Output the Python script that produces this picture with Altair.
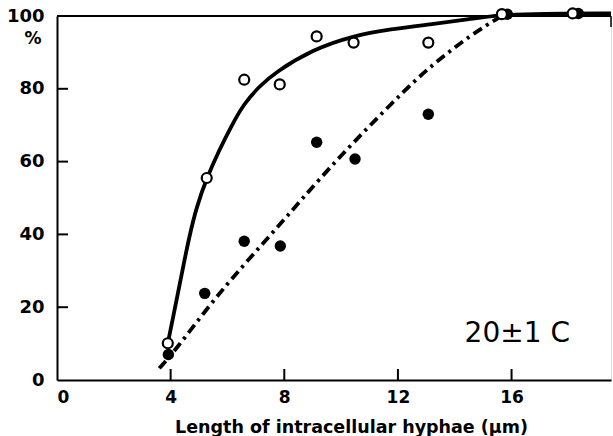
import altair as alt
import pandas as pd

# Open circles (solid curve)
open_x = [3.9, 5.27, 6.59, 7.84, 9.14, 10.44, 13.07, 15.66, 18.15]
open_y = [10.1, 55.5, 82.5, 81.2, 94.4, 92.7, 92.7, 100.5, 100.7]

# Filled circles (dash-dot curve)
filled_x = [3.92, 5.2, 6.59, 7.86, 9.14, 10.49, 13.07, 15.85, 18.35]
filled_y = [7.0, 23.8, 38.1, 36.8, 65.3, 60.7, 73.0, 100.5, 100.7]

# Fitted curves
solid_x = [3.9, 4.08, 4.26, 4.45, 4.66, 4.91, 5.27, 5.7, 6.15, 6.59, 7.1, 7.67, 9.03,
           10.39, 11.76, 13.12, 14.48, 15.6, 17.0, 19.5]
solid_y = [10.1, 17.0, 24.0, 31.5, 39.5, 47.5, 55.5, 63.0, 70.0, 76.0, 80.5, 84.5, 90.9,
           94.5, 96.4, 97.7, 99.1, 100.3, 100.6, 100.7]

dash_x = [3.6, 4.2, 5.39, 6.5, 7.54, 8.6, 9.9, 11.9, 13.1, 14.6, 15.65]
dash_y = [3.2, 8.5, 20.8, 31.0, 40.0, 49.5, 61.0, 77.0, 86.0, 95.0, 100.0]

x_ticks = [4, 8, 12, 16]
x_labels = [0, 4, 8, 12, 16]
y_ticks = [20, 40, 60, 80]
y_labels = [0, 20, 40, 60, 80, 100]

X_MAX = 19.5
FONT = "DejaVu Sans"

xs = alt.Scale(domain=[0, X_MAX], nice=False, zero=False)
ys = alt.Scale(domain=[0, 100], nice=False, zero=False)

open_df = pd.DataFrame({"x": open_x, "y": open_y})
filled_df = pd.DataFrame({"x": filled_x, "y": filled_y})
solid_df = pd.DataFrame({"x": solid_x, "y": solid_y})
dash_df = pd.DataFrame({"x": dash_x, "y": dash_y})

xaxis = alt.Axis(values=x_labels, ticks=False, grid=False, domainColor="black",
                 domainWidth=2, labelFont=FONT, labelFontWeight="bold",
                 labelFontSize=17, labelColor="black", labelPadding=9,
                 title="Length of intracellular hyphae (μm)", titleFont=FONT,
                 titleFontSize=17.5, titleFontWeight="bold", titleColor="black",
                 titleX=294, titleY=52, titleBaseline="alphabetic")
yaxis = alt.Axis(values=y_labels, ticks=False, grid=False, domainColor="black",
                 domainWidth=2, labelFont=FONT, labelFontWeight="bold",
                 labelFontSize=18, labelColor="black", labelPadding=13, title=None)

solid = alt.Chart(solid_df).mark_line(color="black", strokeWidth=3.8,
                                      interpolate="basis").encode(
    x=alt.X("x:Q", scale=xs, axis=xaxis),
    y=alt.Y("y:Q", scale=ys, axis=yaxis),
)
dash = alt.Chart(dash_df).mark_line(color="black", strokeWidth=3.8,
                                    strokeDash=[10, 5, 3, 5],
                                    interpolate="basis").encode(
    x=alt.X("x:Q", scale=xs), y=alt.Y("y:Q", scale=ys))

filled = alt.Chart(filled_df).mark_circle(color="black", size=130, opacity=1).encode(
    x=alt.X("x:Q", scale=xs), y=alt.Y("y:Q", scale=ys))
opened = alt.Chart(open_df).mark_point(shape="circle", fill="white", stroke="black",
                                       strokeWidth=2.2, size=100, opacity=1,
                                       fillOpacity=1).encode(
    x=alt.X("x:Q", scale=xs), y=alt.Y("y:Q", scale=ys))

xt = alt.Chart(pd.DataFrame({"v": x_ticks})).mark_rule(color="black", strokeWidth=2).encode(
    x=alt.X("v:Q", scale=xs), y=alt.value(364), y2=alt.value(353))
yt = alt.Chart(pd.DataFrame({"v": y_ticks})).mark_rule(color="black", strokeWidth=2).encode(
    y=alt.Y("v:Q", scale=ys), x=alt.value(0), x2=alt.value(11))

top = alt.Chart(pd.DataFrame({"a": [0]})).mark_rule(color="black", strokeWidth=2).encode(
    x=alt.datum(0, scale=xs), x2=alt.datum(X_MAX), y=alt.datum(100, scale=ys))
right = alt.Chart(pd.DataFrame({"a": [0]})).mark_rule(color="black", strokeWidth=1.5).encode(
    x=alt.datum(X_MAX, scale=xs), y=alt.datum(100, scale=ys), y2=alt.datum(97))

temp = alt.Chart(pd.DataFrame({"t": ["20±1 C"]})).mark_text(
    font=FONT, fontSize=28, color="black", align="center", baseline="alphabetic").encode(
    x=alt.datum(16.2, scale=xs), y=alt.datum(10.4, scale=ys), text="t:N")

pct = alt.Chart(pd.DataFrame({"t": ["%"]})).mark_text(
    font=FONT, fontSize=17, fontWeight="bold", color="black", align="center",
    baseline="middle").encode(x=alt.value(-24), y=alt.value(23), text="t:N")

chart = alt.layer(solid, dash, top, right, xt, yt, filled, opened, temp, pct).properties(
    width=554, height=364,
    autosize=alt.AutoSizeParams(type="none"),
    padding={"left": 57, "top": 16, "right": 2, "bottom": 56},
).configure_view(stroke=None).configure(background="white")

chart.save("out.html", embed_options={"renderer": "svg", "actions": False})
